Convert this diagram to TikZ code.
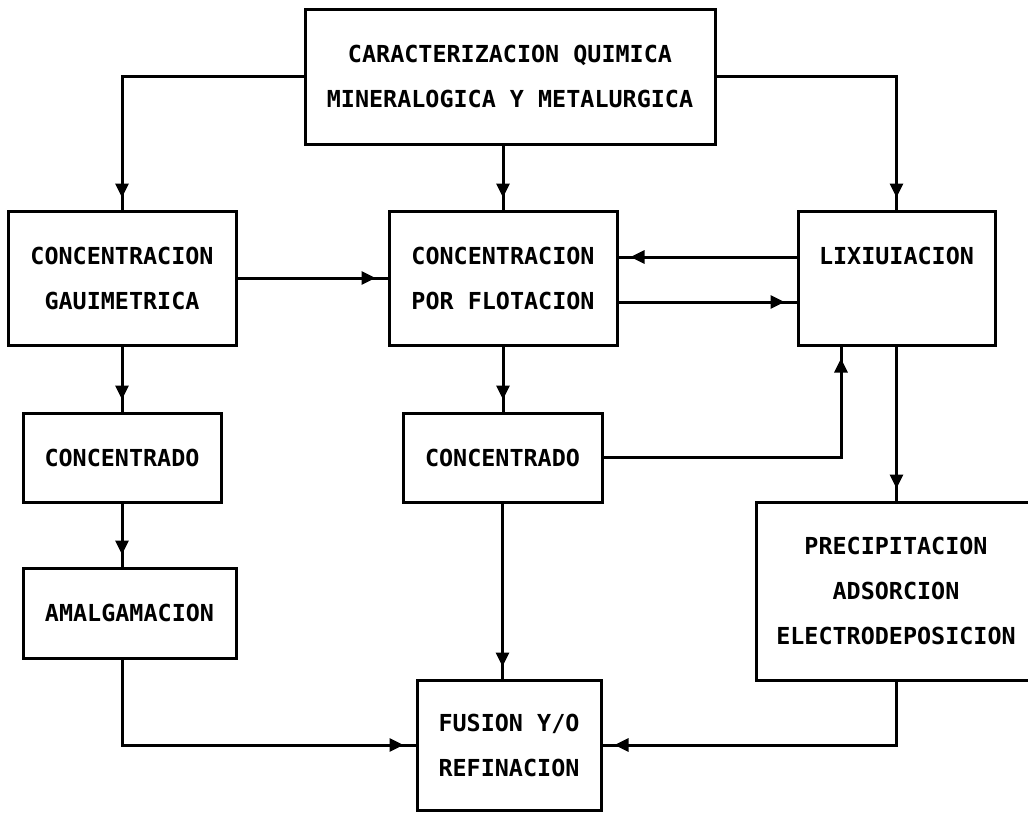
\documentclass[tikz,border=0pt]{standalone}
\usepackage{fontspec}
\newfontfamily\boxfont{DejaVu Sans Mono}
\usetikzlibrary{arrows.meta,decorations.markings,calc}
\tikzset{
  box/.style={draw, line width=3pt, rectangle, align=center, inner sep=0pt,
    font=\boxfont\bfseries\fontsize{23.4}{45}\selectfont},
  conn/.style={line width=3pt,
    postaction={decorate},
    decoration={markings, mark=at position -12pt with {\arrow{Triangle[length=14pt,width=13pt]}}}},
}
\begin{document}
\begin{tikzpicture}[x=1pt,y=-1pt]
\clip (0,0) rectangle (1028,812);
\fill[white] (0,0) rectangle (1028,812);
\node[box, minimum width=410pt, minimum height=135pt] (top) at (510,76.5) {CARACTERIZACION QUIMICA\\MINERALOGICA Y METALURGICA};
\node[box, minimum width=228pt, minimum height=134pt] (grav) at (122,278) {CONCENTRACION\\GAUIMETRICA};
\node[box, minimum width=228pt, minimum height=134pt] (flot) at (503,278) {CONCENTRACION\\POR FLOTACION};
\node[box, minimum width=197pt, minimum height=134pt] (lixi) at (896.5,278) {LIXIUIACION\\\phantom{X}};
\node[box, minimum width=198pt, minimum height=89pt] (conca) at (122,457.5) {CONCENTRADO};
\node[box, minimum width=213pt, minimum height=90pt] (amal) at (129.5,613) {AMALGAMACION};
\node[box, minimum width=199pt, minimum height=89pt] (concb) at (502.5,457.5) {CONCENTRADO};
\node[box, minimum width=280pt, minimum height=178pt] (prec) at (896,591) {PRECIPITACION\\ADSORCION\\ELECTRODEPOSICION};
\node[box, minimum width=184pt, minimum height=130pt] (fus) at (509,745) {FUSION Y/O\\REFINACION};

\draw[conn] (top.west) -| (grav.north);
\draw[conn] (top.south -| flot.north) -- (flot.north);
\draw[conn] (top.east) -| (lixi.north);
\draw[conn] (grav.east) -- (grav.east -| flot.west);
\draw[conn] ([yshift=21pt]lixi.west) -- ([yshift=21pt]lixi.west -| flot.east);
\draw[conn] ([yshift=-24pt]flot.east) -- ([yshift=-24pt]flot.east -| lixi.west);
\draw[conn] (grav.south) -- (conca.north);
\draw[conn] (conca.south) -- (conca.south |- amal.north);
\draw[conn] (amal.south -| conca.south) |- (fus.west);
\draw[conn] (flot.south) -- (flot.south |- concb.north);
\draw[conn] (concb.south) -- (concb.south |- fus.north);
\draw[conn] (concb.east) -| ([xshift=-55.5pt]lixi.south);
\draw[conn] (lixi.south) -- (lixi.south |- prec.north);
\draw[conn] (prec.south -| lixi.south) |- (fus.east);
\end{tikzpicture}
\end{document}
